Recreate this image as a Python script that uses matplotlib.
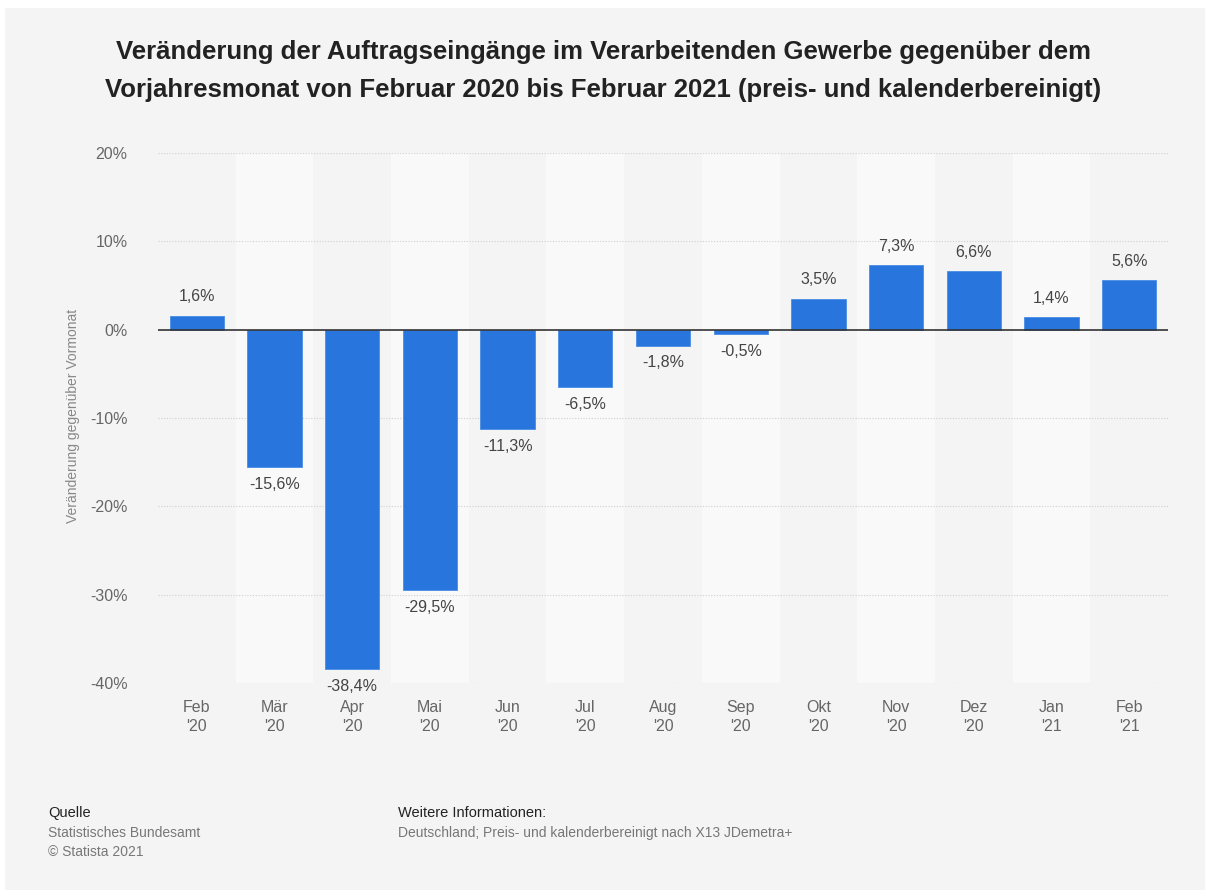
import matplotlib
matplotlib.use("Agg")
from matplotlib import pyplot as plt
from matplotlib.patches import Rectangle

months = ["Feb\n'20", "Mär\n'20", "Apr\n'20", "Mai\n'20", "Jun\n'20", "Jul\n'20",
          "Aug\n'20", "Sep\n'20", "Okt\n'20", "Nov\n'20", "Dez\n'20", "Jan\n'21", "Feb\n'21"]
values = [1.6, -15.6, -38.4, -29.5, -11.3, -6.5, -1.8, -0.5, 3.5, 7.3, 6.6, 1.4, 5.6]
yticks = [20, 10, 0, -10, -20, -30, -40]

title = ("Veränderung der Auftragseingänge im Verarbeitenden Gewerbe gegenüber dem\n"
         "Vorjahresmonat von Februar 2020 bis Februar 2021 (preis- und kalenderbereinigt)")

plt.rcParams['font.family'] = ['Liberation Sans', 'DejaVu Sans']

fig = plt.figure(figsize=(12.06, 8.96), dpi=100, facecolor='white')
bg = Rectangle((5 / 1206, 6 / 896), 1200 / 1206, 882 / 896,
               transform=fig.transFigure, facecolor='#f4f4f4',
               edgecolor='none', zorder=-10)
fig.add_artist(bg)

ax = fig.add_axes([158 / 1206, 1 - 683 / 896, 1010 / 1206, 530 / 896])
ax.set_facecolor('none')

x = list(range(len(values)))
for i in x:
    if i % 2 == 1:
        ax.axvspan(i - 0.5, i + 0.5, color='#f9f9f9', zorder=0, lw=0)

for y in yticks:
    if y != 0:
        ax.axhline(y, color='#cfcfcf', lw=0.8, ls=(0, (1, 1.5)), zorder=1)

ax.bar(x, values, width=0.7, color='#2876dd', edgecolor='#4a8ce3', lw=0.6, zorder=2)
ax.axhline(0, color='#333333', lw=1.2, zorder=3)

for i, v in zip(x, values):
    lbl = f"{v:.1f}%".replace('.', ',')
    if v >= 0:
        ax.text(i, v + 1.3, lbl, ha='center', va='bottom', fontsize=11.5, color='#444444')
    else:
        ax.text(i, v - 1.1, lbl, ha='center', va='top', fontsize=11.5, color='#444444')

ax.set_xlim(-0.5, len(values) - 0.5)
ax.set_ylim(-40, 20)
ax.set_yticks(yticks)
ax.set_yticklabels([f"{t}%" for t in yticks])
ax.set_xticks(x)
ax.set_xticklabels(months, linespacing=1.4)
ax.tick_params(axis='both', length=0, labelsize=11.5, labelcolor='#666666')
ax.tick_params(axis='y', pad=22)
ax.tick_params(axis='x', pad=12)
for s in ax.spines.values():
    s.set_visible(False)

fig.text(73 / 1206, 1 - 416 / 896, "Veränderung gegenüber Vormonat", rotation=90,
         ha='center', va='center', fontsize=10, color='#888888')

fig.text(0.5, 1 - 71 / 896, title, ha='center', va='center', fontsize=18.5,
         fontweight='bold', color='#222222', linespacing=1.75)

fig.text(48 / 1206, 1 - 813 / 896, "Quelle", fontsize=10.5, color='#222222', va='center')
fig.text(48 / 1206, 1 - 833 / 896, "Statistisches Bundesamt", fontsize=10,
         color='#777777', va='center')
fig.text(48 / 1206, 1 - 852 / 896, "© Statista 2021", fontsize=10, color='#777777', va='center')
fig.text(398 / 1206, 1 - 813 / 896, "Weitere Informationen:", fontsize=10.5,
         color='#222222', va='center')
fig.text(398 / 1206, 1 - 833 / 896, "Deutschland; Preis- und kalenderbereinigt nach X13 JDemetra+",
         fontsize=10, color='#777777', va='center')

fig.savefig("out.png", dpi=100, facecolor=fig.get_facecolor())
